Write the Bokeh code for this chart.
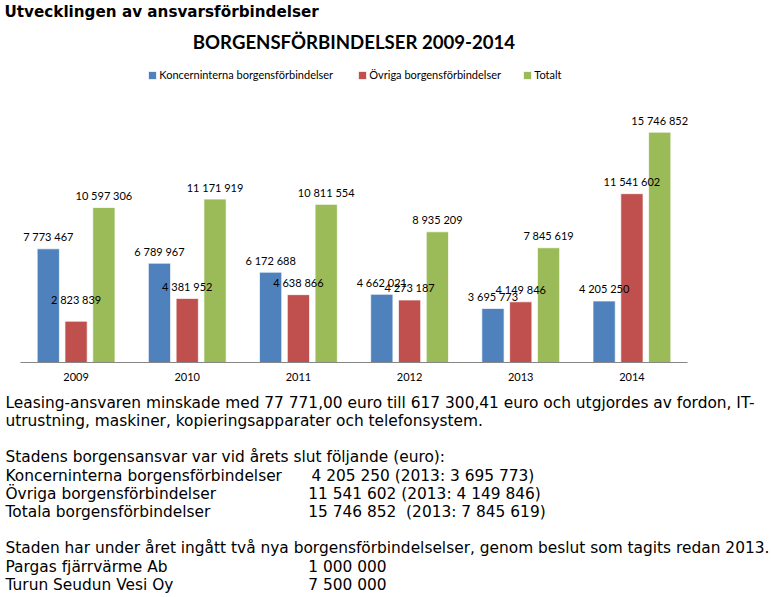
from bokeh.plotting import figure
from bokeh.layouts import column
from bokeh.models import (ColumnDataSource, Range1d, Label, Legend, LegendItem,
                          FixedTicker)
from bokeh.core.properties import value
from bokeh.transform import dodge
from bokeh.embed import file_html
from bokeh.resources import INLINE

# ---------------- data ----------------
years = ["2009", "2010", "2011", "2012", "2013", "2014"]
koncern = [7773467, 6789967, 6172688, 4662021, 3695773, 4205250]
ovriga = [2823839, 4381952, 4638866, 4273187, 4149846, 11541602]
totalt = [10597306, 11171919, 10811554, 8935209, 7845619, 15746852]
series_names = ["Koncerninterna borgensförbindelser", "Övriga borgensförbindelser", "Totalt"]

heading = "Utvecklingen av ansvarsförbindelser"
chart_title = "BORGENSFÖRBINDELSER 2009-2014"
body_lines = [
    ("Leasing-ansvaren minskade med 77 771,00 euro till 617 300,41 euro och utgjordes av fordon, IT-", ""),
    ("utrustning, maskiner, kopieringsapparater och telefonsystem.", ""),
    None,
    ("Stadens borgensansvar var vid årets slut följande (euro):", ""),
    ("Koncerninterna borgensförbindelser", "4 205 250 (2013: 3 695 773)"),
    ("Övriga borgensförbindelser", "11 541 602 (2013: 4 149 846)"),
    ("Totala borgensförbindelser", "15 746 852\u00a0 (2013: 7 845 619)"),
    None,
    ("Staden har under året ingått två nya borgensförbindelselser, genom beslut som tagits redan 2013.", ""),
    ("Pargas fjärrvärme Ab", "1 000 000"),
    ("Turun Seudun Vesi Oy", "7 500 000"),
]

colors = ["#4F81BD", "#C0504D", "#9BBB59"]
offsets = [-0.25, 0.0, 0.25]

W = 771
BASE_FIX = -5.5   # empirical shift of Label baselines


def fmt(v):
    return f"{v:,}".replace(",", " ")


def blank_fig(h):
    f = figure(width=W, height=h, output_backend="svg", toolbar_location=None,
               x_axis_location=None, y_axis_location=None, min_border=0,
               min_border_left=0, min_border_right=0, min_border_top=0,
               min_border_bottom=0,
               outline_line_color=None, x_range=Range1d(0, 1), y_range=Range1d(0, 1))
    f.xgrid.visible = False
    f.ygrid.visible = False
    return f


# ---------------- heading (page y 0..25) ----------------
H_HEAD = 25
head = blank_fig(H_HEAD)
head.add_layout(Label(x=4, y=H_HEAD - (17 + BASE_FIX), x_units="screen", y_units="screen",
                      text=heading, text_baseline="alphabetic",
                      text_font="DejaVu Sans", text_font_style="bold",
                      text_font_size="15.2px", text_color="#000000"))

# ---------------- chart (page y 25..390) ----------------
n = len(years)
PX_PER_CAT = 667 / n          # category band width in px (plot band page x 20..687)
src = ColumnDataSource(dict(
    xc=[i + 0.5 for i in range(n)],
    koncern=koncern, ovriga=ovriga, totalt=totalt,
    koncern_lbl=[fmt(v) for v in koncern],
    ovriga_lbl=[fmt(v) for v in ovriga],
    totalt_lbl=[fmt(v) for v in totalt],
    koncern_off=[-12] * n,
    ovriga_off=[-22 if y == "2009" else -12 for y in years],
    totalt_off=[-12] * n,
))

p = figure(x_range=Range1d(-20 / PX_PER_CAT, n + 84 / PX_PER_CAT),
           y_range=Range1d(0, 23_040_000),
           width=W, height=365, output_backend="svg", toolbar_location=None,
           y_axis_location=None, min_border_left=0, min_border_right=0,
           min_border_top=0, min_border_bottom=28, outline_line_color=None)
p.title.visible = False
p.xgrid.visible = False
p.ygrid.visible = False

renderers = []
for col, c, off in zip(["koncern", "ovriga", "totalt"], colors, offsets):
    r = p.vbar(x=dodge("xc", off), top=col, width=0.2,
               source=src, fill_color=c, line_color="white", line_alpha=0.7,
               line_width=1)
    renderers.append(r)
for col, off in zip(["koncern", "ovriga", "totalt"], offsets):
    p.text(x=dodge("xc", off), y=col, text=col + "_lbl",
           source=src, text_align="center", text_baseline="middle",
           y_offset=col + "_off", text_font_size="11px", text_font=value("Lato"),
           text_color="#000000")

ax = p.xaxis[0]
ax.ticker = FixedTicker(ticks=[i + 0.5 for i in range(n)])
ax.major_label_overrides = {i + 0.5: y for i, y in enumerate(years)}
ax.bounds = (0, n)
ax.axis_line_color = "#868686"
ax.axis_line_width = 1
ax.major_tick_line_color = None
ax.minor_tick_line_color = None
ax.major_tick_out = 0
ax.major_tick_in = 0
ax.major_label_standoff = 10
ax.major_label_text_font = "Lato"
ax.major_label_text_font_size = "11px"
ax.major_label_text_color = "#000000"

# one legend per entry so each sits where the reference has it (frame-relative px)
legend_x = [147.3, 357.3, 522.3]
for name, r, lx in zip(series_names, renderers, legend_x):
    lg = Legend(items=[LegendItem(label=name, renderers=[r])],
                orientation="horizontal", location=(lx, 281), glyph_width=10,
                glyph_height=10, label_standoff=2, spacing=0, padding=0, margin=0,
                border_line_color=None, background_fill_alpha=0,
                label_text_font="Lato", label_text_font_size="11px", label_height=12,
                label_text_color="#000000")
    p.add_layout(lg)

# chart frame bottom-left is at page (0, 362)
p.add_layout(Label(x=353.5, y=362 - (46.7 + BASE_FIX), x_units="screen", y_units="screen",
                   text=chart_title, text_baseline="alphabetic", text_align="center",
                   text_font="Lato", text_font_style="bold", text_font_size="18.6px",
                   text_color="#000000"))

# ---------------- body text (page y 390..597) ----------------
TOP = 390
H_TXT = 597 - TOP
txt = blank_fig(H_TXT)
base = 407.7
step = 18.2
FS = "15.4px"
for i, line in enumerate(body_lines):
    if line is None:
        continue
    y = base + i * step + BASE_FIX
    left, right = line
    txt.add_layout(Label(x=5, y=TOP + H_TXT - y, x_units="screen", y_units="screen",
                         text=left, text_baseline="alphabetic", text_font="DejaVu Sans",
                         text_font_size=FS, text_color="#000000"))
    if right:
        rx = 311 if right.startswith("4 ") else 307.7
        txt.add_layout(Label(x=rx, y=TOP + H_TXT - y, x_units="screen", y_units="screen",
                             text=right, text_baseline="alphabetic", text_font="DejaVu Sans",
                             text_font_size=FS, text_color="#000000"))

layout = column(head, p, txt, spacing=0)
open("out.html", "w").write(file_html(layout, INLINE))
